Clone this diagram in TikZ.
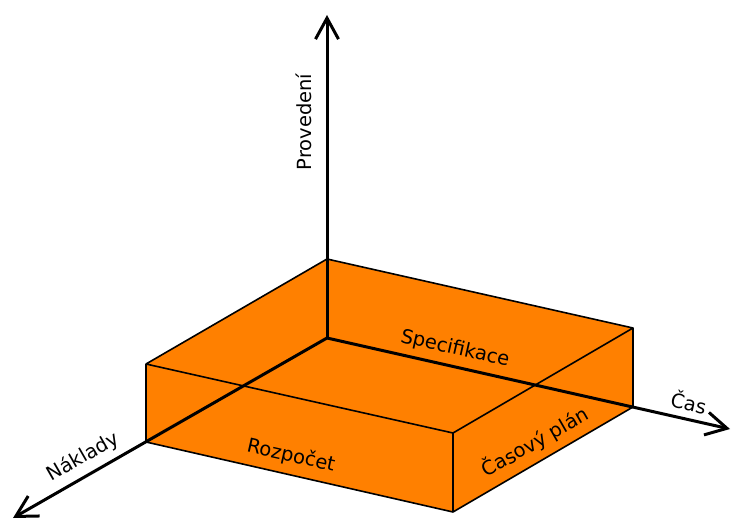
\documentclass[tikz,border=0pt]{standalone}
\usepackage{fontspec}
\setmainfont{DejaVu Sans}
\usetikzlibrary{arrows.meta}
\definecolor{boxorange}{RGB}{255,128,0}
\tikzset{
  axisline/.style={line width=3pt, -{Straight Barb[length=21pt,width=23pt,line width=3pt]}},
  boxedge/.style={line width=1.6pt, line join=round},
  lbl/.style={font=\fontsize{19.5}{22}\selectfont, text=black, inner sep=0pt}
}
\begin{document}
\begin{tikzpicture}[x=1pt,y=-1pt]
\useasboundingbox (0,0) rectangle (731,521);
% box corners
\coordinate (O) at (327,338);
\coordinate (TB) at (327,259);
\coordinate (TL) at (146,364);
\coordinate (TR) at (633,328);
\coordinate (TF) at (453,433);
\coordinate (BL) at (146,442);
\coordinate (BF) at (453,512);
\coordinate (BR) at (633,407);
% axis ends
\coordinate (Ztip) at (327,15);
\coordinate (Xtip) at (730,429);
\coordinate (Ytip) at (13,518);
% box
\fill[boxorange] (TL) -- (TB) -- (TR) -- (BR) -- (BF) -- (BL) -- cycle;
\draw[boxedge] (TL) -- (TB) -- (TR) -- (TF) -- cycle;
\draw[boxedge] (TL) -- (BL) -- (BF) -- (BR) -- (TR);
\draw[boxedge] (TF) -- (BF);
% axes
\draw[axisline] (O) -- (Ztip);
\draw[axisline] (O) -- (Xtip);
\draw[axisline] (O) -- (Ytip);
% labels
\node[lbl, rotate=90] (prov) at (304,122) {Provedení};
\node[lbl, rotate=-12.7] (spec) at (455,349) {Specifikace};
\node[lbl, rotate=-12.7] (cas) at (689,402) {Čas};
\node[lbl, rotate=-12.7] (rozp) at (291,456) {Rozpočet};
\node[lbl, rotate=29.9] (plan) at (535,442) {Časový plán};
\node[lbl, rotate=29.9] (nakl) at (83,457) {Náklady};
\end{tikzpicture}
\end{document}
